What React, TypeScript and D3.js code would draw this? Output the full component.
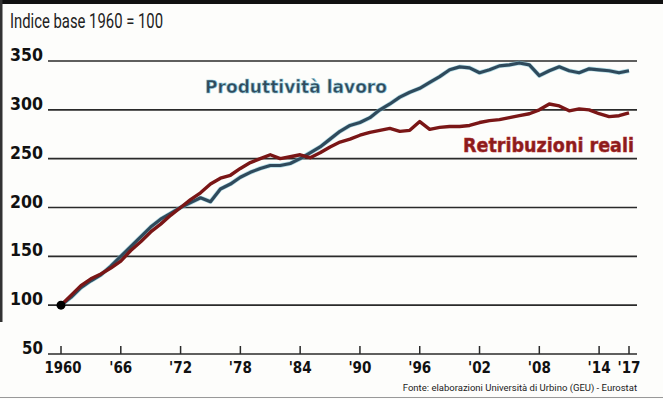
import React from "react";
import * as d3 from "d3";

const years: number[] = d3.range(1960, 2018);

const produttivita: number[] = [
  100, 108, 118, 125, 131, 140, 150, 160, 170, 180,
  188, 194, 200, 205, 210, 206, 219, 224, 231, 236,
  240, 243, 243, 245, 250, 256, 262, 270, 278, 284,
  287, 292, 300, 306, 313, 318, 322, 328, 334, 341,
  344, 343, 338, 341, 345, 346, 348, 346, 335, 340,
  344, 340, 338, 342, 341, 340, 338, 340,
];

const retribuzioni: number[] = [
  100, 110, 120, 127, 132, 138, 145, 156, 165, 175,
  183, 192, 200, 208, 215, 224, 230, 233, 240, 246,
  250, 254, 250, 252, 254, 251, 256, 262, 267, 270,
  274, 277, 279, 281, 278, 279, 288, 280, 282, 283,
  283, 284, 287, 289, 290, 292, 294, 296, 300, 306,
  304, 299, 301, 300, 296, 293, 294, 297,
];

const yTicks: number[] = [50, 100, 150, 200, 250, 300, 350];
const xTicks: number[] = [1960, 1966, 1972, 1978, 1984, 1990, 1996, 2002, 2008, 2014, 2017];
const xTickLabels: string[] = ["1960", "'66", "'72", "'78", "'84", "'90", "'96", "'02", "'08", "'14", "'17"];

const W = 663;
const H = 399;
const NARROW = "'Liberation Sans Narrow', 'Roboto', 'Liberation Sans', sans-serif";
const HEAVY = "'DejaVu Sans', 'Liberation Sans', sans-serif";

export default function App() {
  const x = d3.scaleLinear().domain([1960, 2017]).range([61, 629]);
  const y = d3.scaleLinear().domain([50, 350]).range([354, 61]);

  const line = d3
    .line<number>()
    .x((_, i) => x(years[i]))
    .y((d) => y(d))
    .curve(d3.curveLinear);

  const blue = line(produttivita) || "";
  const red = line(retribuzioni) || "";

  return (
    <svg
      width={W}
      height={H}
      style={{ position: "absolute", left: 0, top: 0, background: "#fff" }}
    >
      <rect x={0} y={0} width={W} height={H} fill="#fdfdfb" />
      {/* frame */}
      <rect x={0} y={0} width={W} height={4} fill="#111" />
      <rect x={0} y={0} width={2.5} height={322} fill="#333" />
      <line x1={0} x2={W} y1={397.5} y2={397.5} stroke="#999" strokeWidth={1} />

      {/* title */}
      <text
        x={10}
        y={28}
        fontFamily={NARROW}
        fontSize={20}
        fill="#222"
        textLength={153}
        lengthAdjust="spacingAndGlyphs"
      >
        Indice base 1960 = 100
      </text>

      {/* gridlines + y labels */}
      {yTicks.map((t) => (
        <g key={t}>
          <line
            x1={48}
            x2={637}
            y1={y(t)}
            y2={y(t)}
            stroke="#2a2a2a"
            strokeWidth={1.6}
          />
          <text
            x={43}
            y={y(t)}
            textAnchor="end"
            fontFamily={HEAVY}
            fontWeight="bold"
            fontSize={17}
            fill="#111"
            textLength={t >= 100 ? 33 : 21}
            lengthAdjust="spacingAndGlyphs"
          >
            {t}
          </text>
        </g>
      ))}

      {/* x ticks */}
      {xTicks.map((t, i) => (
        <g key={t}>
          <line
            x1={x(t)}
            x2={x(t)}
            y1={y(50) - 8}
            y2={y(50)}
            stroke="#2a2a2a"
            strokeWidth={1.5}
          />
          <text
            x={x(t) + (i === 0 ? 2 : 0)}
            y={373}
            textAnchor="middle"
            fontFamily={HEAVY}
            fontWeight="bold"
            fontSize={15}
            fill="#111"
            textLength={i === 0 ? 37 : 23}
            lengthAdjust="spacingAndGlyphs"
          >
            {xTickLabels[i]}
          </text>
        </g>
      ))}

      {/* series */}
      <path d={blue} fill="none" stroke="#7fc4d6" strokeWidth={4.5} strokeLinejoin="round" opacity={0.6} />
      <path d={blue} fill="none" stroke="#2f4a5c" strokeWidth={3.2} strokeLinejoin="round" />
      <path d={red} fill="none" stroke="#7a1616" strokeWidth={3.4} strokeLinejoin="round" />
      <circle cx={x(1960)} cy={y(100)} r={4.5} fill="#000" />

      {/* series labels */}
      <text
        x={205}
        y={93}
        fontFamily={HEAVY}
        fontWeight="bold"
        fontSize={18}
        fill="#2f4a5c"
        stroke="#8fc8d8"
        strokeWidth={0.6}
        textLength={182}
        lengthAdjust="spacingAndGlyphs"
      >
        Produttività lavoro
      </text>
      <text
        x={463}
        y={152}
        fontFamily={HEAVY}
        fontWeight="bold"
        fontSize={19}
        fill="#8a1c1c"
        stroke="#b02a2a"
        strokeWidth={0.5}
        textLength={171}
        lengthAdjust="spacingAndGlyphs"
      >
        Retribuzioni reali
      </text>

      {/* source */}
      <text
        x={637}
        y={391}
        textAnchor="end"
        fontFamily={NARROW}
        fontSize={9.5}
        fill="#222"
      >
        Fonte: elaborazioni Università di Urbino (GEU) - Eurostat
      </text>
    </svg>
  );
}
